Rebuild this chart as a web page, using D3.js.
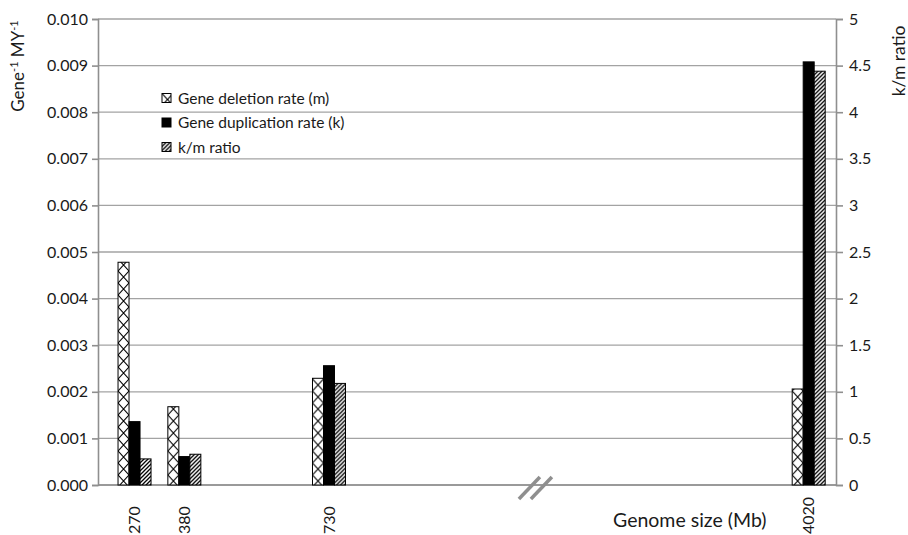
<!DOCTYPE html>
<html>
<head>
<meta charset="utf-8">
<script src="https://cdn.jsdelivr.net/npm/d3@7"></script>
<style>
  body { margin: 0; background: #fff; }
  text { font-family: Lato, "Open Sans", sans-serif; fill: #1a1a1a; }
</style>
</head>
<body>
<div id="chart"></div>
<script>
// Data
let genomeSizes = [270, 380, 730, 4020];
let sizeLabels = ["270", "380", "730", "4020"];
let deletionRate = [0.00478, 0.00168, 0.00229, 0.00206];
let duplicationRate = [0.00136, 0.00061, 0.00256, 0.00908];
let kmRatio = [0.28, 0.33, 1.09, 4.44];
let leftTicks = [0, 0.001, 0.002, 0.003, 0.004, 0.005, 0.006, 0.007, 0.008, 0.009, 0.010];
let rightTicks = [0, 0.5, 1, 1.5, 2, 2.5, 3, 3.5, 4, 4.5, 5];
let seriesNames = ["Gene deletion rate (m)", "Gene duplication rate (k)", "k/m ratio"];

// SVG area
let svgWidth = 908;
let svgHeight = 535;
let margin = { top: 19, right: 72, bottom: 50, left: 98 };
let width = svgWidth - margin.left - margin.right;
let height = svgHeight - margin.top - margin.bottom;

let svg = d3.select("#chart").append("svg")
  .attr("width", svgWidth)
  .attr("height", svgHeight);

// Fill patterns
let defs = svg.append("defs");
let barW = 11;

let cross = defs.append("pattern")
  .attr("id", "cross")
  .attr("patternUnits", "userSpaceOnUse")
  .attr("width", barW).attr("height", 12);
cross.append("rect").attr("width", barW).attr("height", 12).attr("fill", "#fff");
cross.append("path")
  .attr("d", `M0,0L${barW},12M${barW},0L0,12`)
  .attr("stroke", "#000").attr("stroke-width", 1.1);

let stripes = defs.append("pattern")
  .attr("id", "stripes")
  .attr("patternUnits", "userSpaceOnUse")
  .attr("width", 4).attr("height", 4);
stripes.append("rect").attr("width", 4).attr("height", 4).attr("fill", "#fff");
stripes.append("path")
  .attr("d", "M-1,1L1,-1M0,4L4,0M3,5L5,3")
  .attr("stroke", "#000").attr("stroke-width", 1.3);

let fills = ["url(#cross)", "#000", "url(#stripes)"];

let chartGroup = svg.append("g")
  .attr("transform", `translate(${margin.left}, ${margin.top})`);

// Scales: piecewise x scale with a break between 730 and 4020
let xScale = d3.scaleLinear()
  .domain(genomeSizes)
  .range([0.0495 * width, 0.117 * width, 0.313 * width, 0.963 * width]);

let barScale = d3.scaleBand()
  .domain(d3.range(seriesNames.length))
  .range([-1.5 * barW, 1.5 * barW]);

let yLeft = d3.scaleLinear().domain([0, 0.010]).range([height, 0]);
let yRight = d3.scaleLinear().domain([0, 5]).range([height, 0]);

// Gridlines
chartGroup.append("g")
  .selectAll("line")
  .data(leftTicks)
  .enter()
  .append("line")
  .attr("x1", 0)
  .attr("x2", width)
  .attr("y1", d => yLeft(d))
  .attr("y2", d => yLeft(d))
  .attr("stroke", "#a3a3a3")
  .attr("stroke-width", 1.3);

// Axes
let leftAxis = d3.axisLeft(yLeft)
  .tickValues(leftTicks)
  .tickFormat(d3.format(".3f"))
  .tickSizeOuter(0)
  .tickSize(6)
  .tickPadding(4);

let rightAxis = d3.axisRight(yRight)
  .tickValues(rightTicks)
  .tickFormat(d => d)
  .tickSizeOuter(0)
  .tickSize(7)
  .tickPadding(6);

let yAxisL = chartGroup.append("g").call(leftAxis);
let yAxisR = chartGroup.append("g")
  .attr("transform", `translate(${width}, 0)`)
  .call(rightAxis);

[yAxisL, yAxisR].forEach(ax => {
  ax.select(".domain").attr("stroke", "#8f8f8f").attr("stroke-width", 1.6);
  ax.selectAll(".tick line").attr("stroke", "#8f8f8f").attr("stroke-width", 1.6);
  ax.selectAll(".tick text")
    .attr("font-size", 16)
    .attr("font-family", "Lato, sans-serif")
    .attr("fill", "#1a1a1a");
});

// Bottom axis line
chartGroup.append("line")
  .attr("x1", 0).attr("x2", width)
  .attr("y1", height).attr("y2", height)
  .attr("stroke", "#8f8f8f")
  .attr("stroke-width", 1.6);

// Bars
let rows = genomeSizes.map((g, i) => ({
  size: g,
  values: [yLeft(deletionRate[i]), yLeft(duplicationRate[i]), yRight(kmRatio[i])]
}));

let groups = chartGroup.selectAll(".size-group")
  .data(rows)
  .enter()
  .append("g")
  .classed("size-group", true)
  .attr("transform", d => `translate(${xScale(d.size)}, 0)`);

groups.selectAll(".bar")
  .data(d => d.values)
  .enter()
  .append("g")
  .classed("bar", true)
  .attr("transform", (d, j) => `translate(${barScale(j)}, 0)`)
  .append("rect")
  .attr("x", 0)
  .attr("width", barScale.bandwidth())
  .attr("y", d => d)
  .attr("height", d => height - d)
  .attr("fill", (d, j) => fills[j])
  .attr("stroke", "#000")
  .attr("stroke-width", 1);

// Break mark on the x axis
let breakX = 0.592 * width;
let breakGroup = chartGroup.append("g")
  .attr("transform", `translate(${breakX}, ${height})`);
[-6, 6].forEach(off => {
  breakGroup.append("line")
    .attr("x1", off - 10).attr("y1", 14)
    .attr("x2", off + 11).attr("y2", -8)
    .attr("stroke", "#8f8f8f")
    .attr("stroke-width", 3.5);
});

// Category labels (rotated, starting near the bottom edge)
groups.append("text")
  .attr("transform", `translate(0, ${height + 49}) rotate(-90)`)
  .attr("text-anchor", "start")
  .attr("dy", "0.36em")
  .attr("font-size", 16)
  .text((d, i) => sizeLabels[i]);

// Axis titles
svg.append("text")
  .attr("x", 613)
  .attr("y", 527)
  .attr("font-size", 19.5)
  .text("Genome size (Mb)");

let leftTitle = svg.append("text")
  .attr("transform", "translate(24, 66) rotate(-90)")
  .attr("text-anchor", "middle")
  .attr("font-size", 17);
leftTitle.append("tspan").text("Gene");
leftTitle.append("tspan").attr("dy", -6).attr("font-size", 11).text("-1");
leftTitle.append("tspan").attr("dy", 6).text(" MY");
leftTitle.append("tspan").attr("dy", -6).attr("font-size", 11).text("-1");

svg.append("text")
  .attr("transform", "translate(905, 61) rotate(-90)")
  .attr("text-anchor", "middle")
  .attr("font-size", 17.5)
  .text("k/m ratio");

// Legend
let legend = svg.append("g")
  .attr("transform", "translate(162, 98)");

let legendItems = legend.selectAll("g")
  .data(seriesNames)
  .enter()
  .append("g")
  .attr("transform", (d, i) => `translate(0, ${i * 24.5})`);

legendItems.append("g")
  .attr("transform", "translate(0, -4.5)")
  .append("rect")
  .attr("width", 9)
  .attr("height", 9)
  .attr("fill", (d, i) => fills[i])
  .attr("stroke", "#000")
  .attr("stroke-width", 1);

legendItems.append("text")
  .attr("x", 16)
  .attr("dy", "0.36em")
  .attr("font-size", 15.5)
  .text(d => d);
</script>
</body>
</html>
